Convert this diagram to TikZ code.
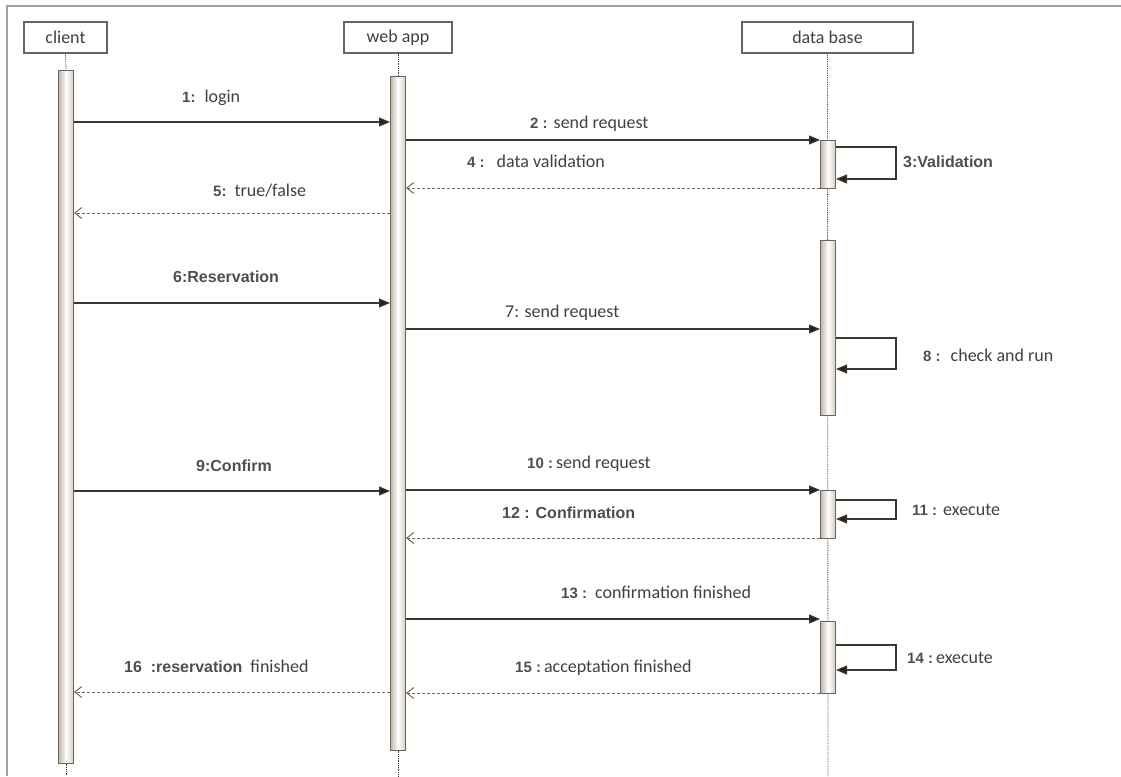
\documentclass[tikz,border=0pt]{standalone}
\usepackage{fontspec}
\setmainfont{Carlito}
\newfontfamily\numfont{Liberation Sans}
\usetikzlibrary{arrows.meta}
\definecolor{edgegray}{HTML}{6E635A}
\definecolor{barshade}{HTML}{C2B7AB}
\definecolor{msggray}{HTML}{3A3633}
\definecolor{tipgray}{HTML}{2B2118}
\definecolor{txtgray}{HTML}{3F3F4A}
\definecolor{numgray}{HTML}{4E4E4E}
\definecolor{framegray}{HTML}{A0A0A0}
\tikzset{
	head/.style={draw=edgegray, line width=1.3pt, fill=white, minimum height=31pt, inner sep=0pt, text=txtgray, font=\fontsize{18}{20}\selectfont},
	bar/.style={draw=edgegray, line width=1pt, left color=barshade, right color=barshade!70, middle color=white, minimum width=15pt, inner sep=0pt},
	life/.style={draw=msggray, densely dotted, line width=0.8pt},
	call/.style={draw=msggray, line width=1.1pt, -{Triangle[length=11pt,width=9pt,fill=tipgray]}},
	reply/.style={draw=msggray!75, dash pattern=on 3pt off 2pt, line width=1pt, -{Straight Barb[length=7pt,width=11pt]}},
	lbl/.style={anchor=base west, inner sep=0pt, text=txtgray, font=\fontsize{18}{20}\selectfont},
	blbl/.style={lbl, text=numgray, font=\numfont\bfseries\fontsize{16}{18}\selectfont}
}
\newcommand{\nr}[1]{{\numfont\bfseries\fontsize{15}{17}\selectfont\color{numgray}#1}}
\begin{document}
\begin{tikzpicture}[x=1pt,y=-1pt]
	\useasboundingbox (0,0) rectangle (1121,776);
	\draw[framegray, line width=2pt] (7,776) -- (7,6) -- (1121,6);

	\node[head, minimum width=83pt] (client) at (65.5,37.5) {client};
	\node[head, minimum width=108pt] (web) at (398,37.5) {web app};
	\node[head, minimum width=171pt] (db) at (827.5,37.5) {data base};
	\foreach \who/\x in {client/66, web/398, db/828}{
		\coordinate (\who end) at (\x,776);
	};

	\draw[life] (db.south) -- (dbend);
	\node[bar, minimum height=693pt] (cbar) at (66,416.5) {};
	\node[bar, minimum height=674pt] (wbar) at (398,413) {};
	\node[bar, minimum height=48pt] (d1) at (828,164) {};
	\node[bar, minimum height=175pt] (d2) at (828,327.5) {};
	\node[bar, minimum height=48pt] (d3) at (828,514) {};
	\node[bar, minimum height=72pt] (d4) at (828,657) {};
	\draw[life] (client.south) -- (cbar.north);
	\draw[life] (cbar.south) -- (clientend);
	\draw[life] (web.south) -- (wbar.north);
	\draw[life] (wbar.south) -- (webend);

	\draw[call] (cbar.east |- 0,122) -- (wbar.west |- 0,122);
	\draw[call] (wbar.east |- 0,140) -- (d1.west |- 0,140);
	\draw[call] (d1.east |- 0,147) -| (896,179) -- (d1.east |- 0,179);
	\draw[reply] (d1.west |- 0,188) -- (wbar.east |- 0,188);
	\draw[reply] (wbar.west |- 0,213) -- (cbar.east |- 0,213);

	\draw[call] (cbar.east |- 0,303) -- (wbar.west |- 0,303);
	\draw[call] (wbar.east |- 0,329) -- (d2.west |- 0,329);
	\draw[call] (d2.east |- 0,338) -| (896,369) -- (d2.east |- 0,369);

	\draw[call] (cbar.east |- 0,491) -- (wbar.west |- 0,491);
	\draw[call] (wbar.east |- 0,490) -- (d3.west |- 0,490);
	\draw[call] (d3.east |- 0,500) -| (896,519) -- (d3.east |- 0,519);
	\draw[reply] (d3.west |- 0,538) -- (wbar.east |- 0,538);

	\draw[call] (wbar.east |- 0,619) -- (d4.west |- 0,619);
	\draw[call] (d4.east |- 0,645) -| (896,670) -- (d4.east |- 0,670);
	\draw[reply] (d4.west |- 0,693) -- (wbar.east |- 0,693);
	\draw[reply] (wbar.west |- 0,692) -- (cbar.east |- 0,692);

	\node[lbl] (l1) at (182,102) {\nr{1:}\hspace{9pt}login};
	\node[lbl] (l2) at (530,128) {\nr{2 :}\hspace{6pt}send request};
	\node[blbl] (l3) at (903,167) {3:Validation};
	\node[lbl] (l4) at (467,167) {\nr{4 :}\hspace{12pt}data validation};
	\node[lbl] (l5) at (213,196) {\nr{5:}\hspace{8pt}true/false};
	\node[blbl] (l6) at (173,282) {6:Reservation};
	\node[lbl] (l7) at (505,317) {7: send request};
	\node[lbl] (l8) at (923,361) {\nr{8 :}\hspace{10pt}check and run};
	\node[blbl] (l9) at (196,471) {9:Confirm};
	\node[lbl] (l10) at (527,468) {\nr{10 :}\hspace{3pt}send request};
	\node[lbl] (l11) at (912,515) {\nr{11 :}\hspace{6pt}execute};
	\node[blbl] (l12) at (502,518) {12 : Confirmation};
	\node[lbl] (l13) at (561,598) {\nr{13 :}\hspace{8pt}confirmation finished};
	\node[lbl] (l14) at (907,663) {\nr{14 :}\hspace{3pt}execute};
	\node[lbl] (l15) at (515,672) {\nr{15 :}\hspace{3pt}acceptation finished};
	\node[lbl] (l16) at (124,672) {{\numfont\bfseries\fontsize{16}{18}\selectfont\color{numgray}16\ \ :reservation}\hspace{8pt}finished};
\end{tikzpicture}
\end{document}
